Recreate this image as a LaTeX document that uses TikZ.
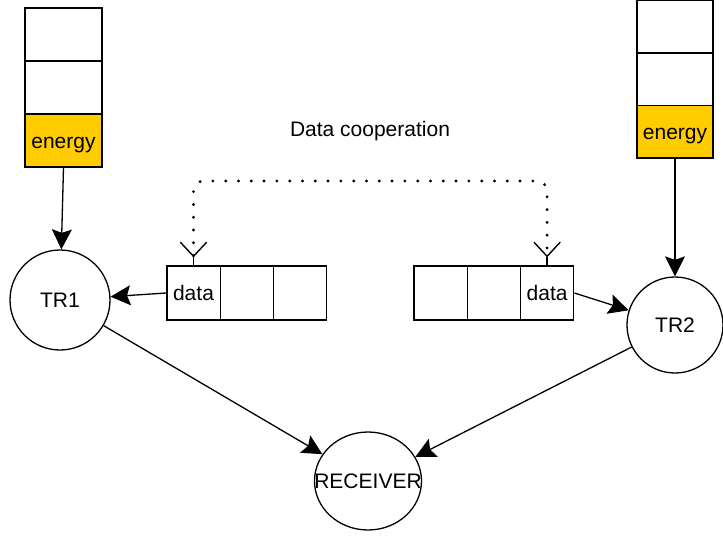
\documentclass[tikz,border=0pt]{standalone}
\usepackage{fontspec}
\setmainfont{Liberation Sans}
\usetikzlibrary{arrows.meta,shapes.geometric}
\definecolor{energyfill}{HTML}{FFCC00}
\tikzset{
  lbl/.style={font=\fontsize{21}{25}\selectfont, text height=15pt, text depth=0pt},
  cell/.style={draw, line width=1.3pt, inner sep=0pt, lbl},
  slot/.style={cell, minimum width=53.3pt, minimum height=54pt},
  ecell/.style={cell, minimum width=77pt, minimum height=53pt},
  station/.style={draw, circle, line width=1.3pt, inner sep=0pt, lbl},
  arr/.style={line width=1.3pt, -{Stealth[length=20pt,width=20pt,inset=3.5pt]}},
  coopbarb/.tip={Straight Barb[line width=1.4pt,length=14pt,width=26pt,line cap=round]},
  dotline/.style={line width=3.2pt, line cap=round, dash pattern=on 0pt off 12.8pt,
    rounded corners=10pt, {coopbarb}-{coopbarb}},
  stem/.style={line width=1.3pt}
}
\begin{document}
\begin{tikzpicture}[x=1pt,y=-1pt]
\useasboundingbox (0,0) rectangle (723,536);

% energy stack of the first transmitter
\node[ecell] (e1a) at (63.5,34.5) {};
\node[ecell] (e1b) at (63.5,87.5) {};
\node[ecell, fill=energyfill] (e1c) at (63.5,140.5) {energy};

% energy stack of the second transmitter
\node[ecell, minimum width=76pt, minimum height=52.5pt] (e2a) at (675,26.75) {};
\node[ecell, minimum width=76pt, minimum height=52.5pt] (e2b) at (675,79.25) {};
\node[ecell, minimum width=76pt, minimum height=52.5pt, fill=energyfill] (e2c) at (675,131.75) {energy};

% transmitters and receiver
\node[station, minimum size=100pt] (tr1) at (60,300) {TR1};
\node[station, minimum size=96pt] (tr2) at (675,325) {TR2};
\node[draw, ellipse, line width=1.3pt, inner sep=0pt,
      minimum width=107pt, minimum height=98pt,
      label={[lbl]center:RECEIVER}] (rx) at (368,481) {};

% data buffers
\node[slot] (d1a) at (193.5,293) {data};
\node[slot] (d1b) at (246.8,293) {};
\node[slot] (d1c) at (300.1,293) {};
\node[slot] (d2a) at (440.5,293) {};
\node[slot] (d2b) at (493.8,293) {};
\node[slot] (d2c) at (547.1,293) {data};

\node[lbl] (coop) at (370,129) {Data cooperation};

% connectors
\draw[arr] (e1c.south) -- (tr1);
\draw[arr] (e2c.south) -- (tr2);
\draw[arr] (d1a.west) -- (tr1);
\draw[arr] (d2c.east) -- (tr2);
\draw[arr] (tr1) -- (rx);
\draw[arr] (tr2) -- (rx);

% dotted cooperation link between the two data cells
\coordinate (ctop) at (0,181);
\coordinate (p1) at ([yshift=8pt]d1a.north);
\coordinate (p2) at ([yshift=8pt]d2c.north);
\draw[dotline] (p1) -- (p1 |- ctop) -- (p2 |- ctop) -- (p2);
\draw[stem] (p1) -- (d1a.north);
\draw[stem] (p2) -- (d2c.north);
\end{tikzpicture}
\end{document}
